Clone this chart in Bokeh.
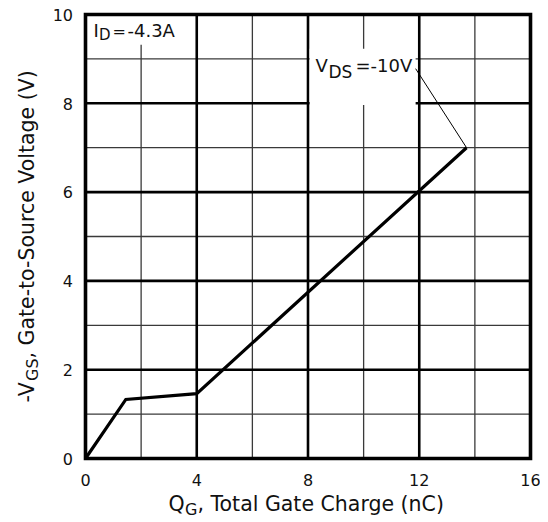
import math
from bokeh.plotting import figure
from bokeh.models import Label, Range1d
from bokeh.embed import file_html
from bokeh.resources import INLINE

# ---- data ----
qg = [0.0, 1.45, 4.0, 13.7]          # total gate charge (nC)
vgs = [0.0, 1.33, 1.46, 7.0]         # -VGS (V)
x_ticks = [0, 4, 8, 12, 16]
y_ticks = [0, 2, 4, 6, 8, 10]
x_minor_grid = [2, 6, 10, 14]
x_major_grid = [4, 8, 12]
y_minor_grid = [1, 3, 5, 7, 9]
y_major_grid = [2, 4, 6, 8]

FONT = "DejaVu Sans"
TXT = "#111111"

# picture geometry: plotting box spans x 85..530 px and y 14..458 px
W, H = 540, 520
L, R, T, B = 85, 530, 14, 458
SX = (R - L) / (x_ticks[-1] - x_ticks[0])
SY = (B - T) / (y_ticks[-1] - y_ticks[0])

p = figure(width=W, height=H,
           x_range=Range1d(x_ticks[0] - L / SX, x_ticks[-1] + (W - R) / SX),
           y_range=Range1d(y_ticks[0] - (H - B) / SY, y_ticks[-1] + T / SY),
           output_backend="svg", toolbar_location=None,
           x_axis_location=None, y_axis_location=None,
           min_border=0)
p.min_border_left = p.min_border_right = p.min_border_top = p.min_border_bottom = 0
p.grid.visible = False
p.outline_line_color = None
p.background_fill_color = "white"
p.border_fill_color = "white"

y0, y1 = y_ticks[0], y_ticks[-1]
x0, x1 = x_ticks[0], x_ticks[-1]

# grid lines (thin every 2 nC / 1 V, heavy every 4 nC / 2 V)
p.segment(x0=x_minor_grid, y0=y0, x1=x_minor_grid, y1=y1, line_color="#3a3a3a", line_width=1.3)
p.segment(x0=x0, y0=y_minor_grid, x1=x1, y1=y_minor_grid, line_color="#3a3a3a", line_width=1.3)
p.segment(x0=x_major_grid, y0=y0, x1=x_major_grid, y1=y1, line_color="black", line_width=2.6)
p.segment(x0=x0, y0=y_major_grid, x1=x1, y1=y_major_grid, line_color="black", line_width=2.6)

# white boxes behind the two annotations
p.quad(left=[0.0], right=[3.5], bottom=[9.32], top=[10.0], fill_color="white", line_color=None)
p.quad(left=[8.06], right=[11.87], bottom=[7.96], top=[9.23], fill_color="white", line_color=None)

# curve
p.line(qg, vgs, line_color="black", line_width=3.2, line_join="miter")
# leader line for the VDS label
p.line([11.87, qg[-1]], [8.78, vgs[-1]], line_color="black", line_width=1.0)

# plotting box border
p.quad(left=[x0], right=[x1], bottom=[y0], top=[y1], fill_color=None,
       line_color="black", line_width=3.6, line_join="miter")

BL = 0.35  # Label "alphabetic" anchor sits this many font-sizes above the drawn baseline


def lab(text, ix, iy, size, angle=0.0, align="left", x=0.0, y=0.0):
    # ix, iy: wanted baseline position in picture pixels
    if angle:
        ox, oy = ix - BL * size, iy
    else:
        ox, oy = ix, iy - BL * size
    return Label(x=x, y=y, x_offset=ox - (L + x * SX), y_offset=(B - y * SY) - oy, text=text,
                 text_font=FONT, text_font_size=f"{size}px", text_color=TXT,
                 text_align=align, text_baseline="alphabetic", angle=angle)


# tick labels
for t in x_ticks:
    p.add_layout(lab(str(t), L + t * SX, 485.5, 16, align="center", x=t))
for t in y_ticks:
    p.add_layout(lab(str(t), 72.5, B - t * SY + 5.8, 16, align="right", y=t))

# I_D = -4.3A
p.add_layout(lab("I", 93, 36.5, 18))
p.add_layout(lab("D", 98.5, 39.5, 15))
p.add_layout(lab("=", 112, 36.5, 16))
p.add_layout(lab("-4.3A", 127, 36.5, 18))

# V_DS = -10V
p.add_layout(lab("V", 315, 71.7, 18))
p.add_layout(lab("DS", 328, 77.5, 17))
p.add_layout(lab("=-10V", 355, 71.7, 18))

# x axis title: Q_G, Total Gate Charge (nC)
p.add_layout(lab("Q", 168, 511, 20.5))
p.add_layout(lab("G", 184.5, 515, 16))
p.add_layout(lab(", Total Gate Charge (nC)", 197, 511, 20.5))

# y axis title: -V_GS, Gate-to-Source Voltage (V)
a = math.pi / 2
p.add_layout(lab("-V", 33.5, 402, 20.5, a))
p.add_layout(lab("GS", 37.5, 380.5, 16, a))
p.add_layout(lab(", Gate-to-Source Voltage (V)", 33.5, 358, 20.5, a))

open("out.html", "w").write(file_html(p, INLINE))
